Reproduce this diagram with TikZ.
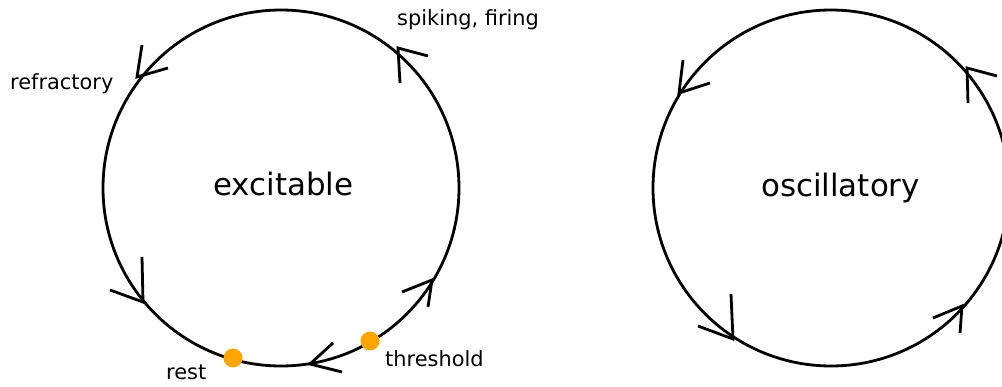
\documentclass[tikz,border=0pt]{standalone}
\usepackage{fontspec}
\setmainfont{DejaVu Sans}
\definecolor{dotorange}{HTML}{FFA500}
\begin{document}
\begin{tikzpicture}[x=1pt,y=-1pt,
  ring/.style={line width=2.8pt,draw=black},
  barb/.style={line width=2.8pt,draw=black,line join=miter,line cap=butt},
  small/.style={font=\fontsize{20.9}{24}\selectfont,anchor=base west,inner sep=0pt},
  big/.style={font=\fontsize{30.9}{36}\selectfont,anchor=base west,inner sep=0pt},
  state/.style={circle,fill=dotorange,minimum size=19pt,inner sep=0pt}]
\useasboundingbox (0,0) rectangle (1002,387);
% circles
\coordinate (cl) at (281,188);
\coordinate (cr) at (831,188);
\draw[ring] (cl) circle[radius=178pt];
\draw[ring] (cr) circle[radius=178pt];
% arrowheads, left circle
\draw[barb] (142,45) -- (137,77) -- (168,68);
\draw[barb] (400,83) -- (398,48) -- (428,56);
\draw[barb] (142,257) -- (143,302) -- (110,290);
\draw[barb] (333,343) -- (310,364) -- (342,372);
\draw[barb] (402,292) -- (432,280) -- (428,307);
% arrowheads, right circle
\draw[barb] (683,60) -- (679,93) -- (710,83);
\draw[barb] (968,103) -- (967,68) -- (997,76);
\draw[barb] (731,294) -- (733,339) -- (698,326);
\draw[barb] (933,318) -- (962,306) -- (960,333);
% states
\node[state] (rest) at (233,358) {};
\node[state] (thr) at (370,341) {};
% labels
\node[small] (lspike) at (397,26) {spiking, firing};
\node[small] (lrefr) at (10,90) {refractory};
\node[small] (lrest) at (166,380) {rest};
\node[small] (lthr) at (385,367) {threshold};
\node[big] (lexc) at (213,196) {excitable};
\node[big] (losc) at (761,197) {oscillatory};
\end{tikzpicture}
\end{document}
